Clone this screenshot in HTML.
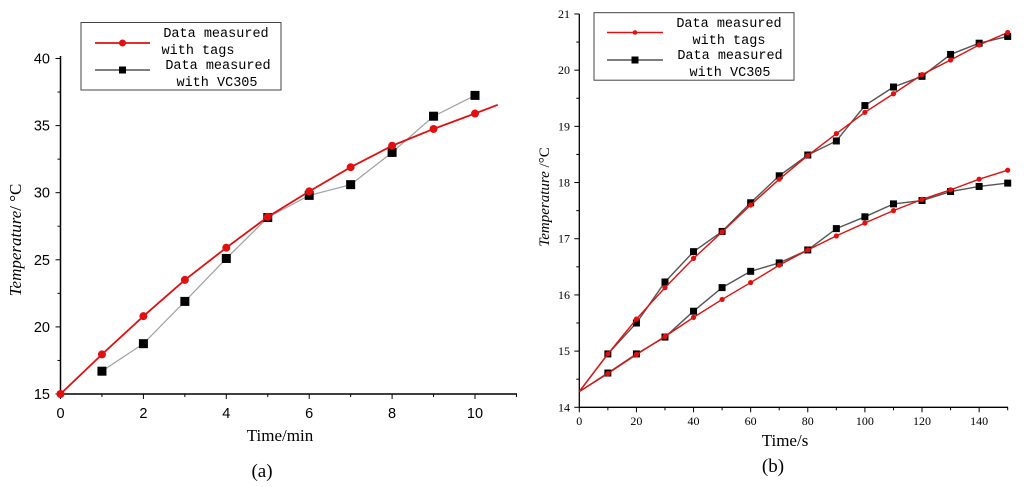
<!DOCTYPE html>
<html><head><meta charset="utf-8"><style>
html,body{margin:0;padding:0;background:#fff;}
svg{display:block;}
.sans{font-family:"Liberation Sans",Arial,sans-serif;}
.serif{font-family:"Liberation Serif","Times New Roman",serif;}
.mono{font-family:"Liberation Mono",monospace;}
</style></head><body>
<svg id="fig" width="1024" height="487" viewBox="0 0 1024 487" xmlns="http://www.w3.org/2000/svg">
<g id="chartA"></g>
<g id="chartB"></g>
</svg>
<script>
// ---- Chart (a) data ----
const aX = [0,1,2,3,4,5,6,7,8,9,10];
const aTags = [15,17.95,20.8,23.5,25.9,28.2,30.1,31.9,33.5,34.75,35.9];
const aTagsExtX = 10.55;
const aTagsExtY = 36.55;
const aVcX = [1,2,3,4,5,6,7,8,9,10];
const aVc = [16.7,18.75,21.9,25.1,28.15,29.8,30.6,33.0,35.7,37.25];
const aXTicks = [0,2,4,6,8,10];
const aYTicks = [15,20,25,30,35,40];
// ---- Chart (b) data ----
const bX = [0,10,20,30,40,50,60,70,80,90,100,110,120,130,140,150];
const bUpTags = [14.28,14.95,15.57,16.13,16.65,17.12,17.6,18.06,18.48,18.87,19.25,19.58,19.92,20.18,20.45,20.67];
const bUpVc = [14.28,14.95,15.5,16.23,16.77,17.13,17.64,18.12,18.49,18.74,19.37,19.7,19.89,20.28,20.48,20.6];
const bLoTags = [14.28,14.6,14.94,15.26,15.6,15.92,16.22,16.53,16.8,17.05,17.28,17.5,17.7,17.87,18.06,18.22];
const bLoVc = [14.28,14.61,14.95,15.25,15.71,16.13,16.42,16.57,16.8,17.18,17.39,17.62,17.68,17.84,17.93,17.99];
const bXTicks = [0,20,40,60,80,100,120,140];
const bYTicks = [14,15,16,17,18,19,20,21];

const NS = "http://www.w3.org/2000/svg";
function mk(parent, tag, attrs, text){
  const e = document.createElementNS(NS, tag);
  for (const k in attrs) e.setAttribute(k, attrs[k]);
  if (text !== undefined) e.textContent = text;
  parent.appendChild(e);
  return e;
}

// ===== Chart A =====
(function(){
  const g = document.getElementById('chartA');
  const x = v => 60.5 + v * 41.45;
  const y = v => 394 - (v - 15) * 13.42;
  let e = mk(g,'line',{x1:60.5,y1:56,x2:60.5,y2:394,stroke:'#000','stroke-width':1.5});
   
  e = mk(g,'line',{x1:60.5,y1:394,x2:517,y2:394,stroke:'#000','stroke-width':1.5});
   
  for (let v = 15; v <= 40; v += 2.5) {
    const major = aYTicks.includes(v);
    mk(g,'line',{x1:60.5-(major?5:3),y1:y(v),x2:60.5,y2:y(v),stroke:'#000','stroke-width':1});
  }
  aYTicks.forEach(v=>{
    const t = mk(g,'text',{x:50,y:y(v)+5,'text-anchor':'end','font-size':14.5,class:'sans'},String(v));
     
  });
  for (let v = 1; v <= 11; v += 1) {
    const major = aXTicks.includes(v);
    mk(g,'line',{x1:x(v),y1:394,x2:x(v),y2:394+(major?5:3),stroke:'#000','stroke-width':1});
  }
  mk(g,'line',{x1:x(0),y1:394,x2:x(0),y2:399,stroke:'#000','stroke-width':1});
  aXTicks.forEach(v=>{
    const t = mk(g,'text',{x:x(v),y:418,'text-anchor':'middle','font-size':14.5,class:'sans'},String(v));
     
  });
  let pts = aVcX.map((v,i)=>x(v)+','+y(aVc[i])).join(' ');
  e = mk(g,'polyline',{points:pts,fill:'none',stroke:'#a0a0a0','stroke-width':1.2});
   
  aVcX.forEach((v,i)=>{
    const r = mk(g,'rect',{x:x(v)-4.5,y:y(aVc[i])-4.5,width:9,height:9,fill:'#000'});
     
  });
  pts = aX.map((v,i)=>x(v)+','+y(aTags[i])).join(' ') + ' ' + x(aTagsExtX)+','+y(aTagsExtY);
  e = mk(g,'polyline',{points:pts,fill:'none',stroke:'#e01010','stroke-width':1.8});
   
  aX.forEach((v,i)=>{
    const c = mk(g,'circle',{cx:x(v),cy:y(aTags[i]),r:4,fill:'#e01010'});
     
  });
  const lg = mk(g,'g',{});
   
  mk(lg,'rect',{x:81,y:22.5,width:200,height:67.5,fill:'#fff',stroke:'#444','stroke-width':1});
  mk(lg,'line',{x1:95,y1:43,x2:150,y2:43,stroke:'#e01010','stroke-width':1.8});
  mk(lg,'circle',{cx:122.5,cy:43,r:3.5,fill:'#e01010'});
  mk(lg,'line',{x1:95,y1:70,x2:150,y2:70,stroke:'#333','stroke-width':1.2});
  mk(lg,'rect',{x:119,y:66.5,width:7,height:7,fill:'#000'});
  mk(lg,'text',{x:216,y:37,'text-anchor':'middle','font-size':13.5,class:'mono'},'Data measured');
  mk(lg,'text',{x:198,y:54,'text-anchor':'middle','font-size':13.5,class:'mono'},'with tags');
  mk(lg,'text',{x:218,y:69,'text-anchor':'middle','font-size':13.5,class:'mono'},'Data measured');
  mk(lg,'text',{x:217,y:86,'text-anchor':'middle','font-size':13.5,class:'mono'},'with VC305');
  e = mk(g,'text',{x:0,y:0,'text-anchor':'middle','font-size':17,class:'serif',transform:'translate(21,240) rotate(-90)'});
  mk(e,'tspan',{'font-style':'italic'},'Temperature');
  mk(e,'tspan',{},'/ °C');
   
  e = mk(g,'text',{x:280,y:441,'text-anchor':'middle','font-size':17,class:'serif'},'Time/min');
   
  e = mk(g,'text',{x:262,y:477,'text-anchor':'middle','font-size':19,class:'serif'},'(a)');
   
})();

// ===== Chart B =====
(function(){
  const g = document.getElementById('chartB');
  const x = v => 579.3 + v * 2.856;
  const y = v => 407.3 - (v - 14) * 56.19;
  let e = mk(g,'line',{x1:579.3,y1:14,x2:579.3,y2:407.3,stroke:'#000','stroke-width':1.3});
   
  e = mk(g,'line',{x1:579.3,y1:407.3,x2:1008,y2:407.3,stroke:'#000','stroke-width':1.3});
   
  for (let v = 14; v <= 21; v += 0.5) {
    const major = Number.isInteger(v);
    mk(g,'line',{x1:579.3-(major?5:3),y1:y(v),x2:579.3,y2:y(v),stroke:'#000','stroke-width':1});
  }
  bYTicks.forEach(v=>{
    const t = mk(g,'text',{x:570,y:y(v)+4,'text-anchor':'end','font-size':12,class:'serif'},String(v));
     
  });
  for (let v = 0; v <= 150; v += 10) {
    const major = v % 20 === 0;
    mk(g,'line',{x1:x(v),y1:407.3,x2:x(v),y2:407.3+(major?5:3),stroke:'#000','stroke-width':1});
  }
  bXTicks.forEach(v=>{
    const t = mk(g,'text',{x:x(v),y:425,'text-anchor':'middle','font-size':12,class:'serif'},String(v));
     
  });
  function series(vals, kind, name){
    const pts = bX.map((v,i)=>x(v)+','+y(vals[i])).join(' ');
    const l = mk(g,'polyline',{points:pts,fill:'none',stroke:kind==='vc'?'#555':'#e01010','stroke-width':1.4});
     
    bX.forEach((v,i)=>{
      if (i===0) return;
      let m;
      if (kind==='vc') m = mk(g,'rect',{x:x(v)-3.5,y:y(vals[i])-3.5,width:7,height:7,fill:'#000'});
      else m = mk(g,'circle',{cx:x(v),cy:y(vals[i]),r:2.6,fill:'#e01010'});
       
    });
  }
  series(bUpVc,'vc','upper-vc305');
  series(bLoVc,'vc','lower-vc305');
  series(bUpTags,'tags','upper-tags');
  series(bLoTags,'tags','lower-tags');
  const lg = mk(g,'g',{});
   
  mk(lg,'rect',{x:594,y:12.7,width:200,height:67.5,fill:'#fff',stroke:'#444','stroke-width':1});
  mk(lg,'line',{x1:607,y1:32.5,x2:663,y2:32.5,stroke:'#e01010','stroke-width':1.6});
  mk(lg,'circle',{cx:635,cy:32.5,r:2.3,fill:'#e01010'});
  mk(lg,'line',{x1:607,y1:60,x2:663,y2:60,stroke:'#555','stroke-width':1.4});
  mk(lg,'rect',{x:631.5,y:56.5,width:7,height:7,fill:'#000'});
  mk(lg,'text',{x:729,y:27,'text-anchor':'middle','font-size':13.5,class:'mono'},'Data measured');
  mk(lg,'text',{x:729,y:44,'text-anchor':'middle','font-size':13.5,class:'mono'},'with tags');
  mk(lg,'text',{x:730,y:59,'text-anchor':'middle','font-size':13.5,class:'mono'},'Data measured');
  mk(lg,'text',{x:730,y:76,'text-anchor':'middle','font-size':13.5,class:'mono'},'with VC305');
  e = mk(g,'text',{x:0,y:0,'text-anchor':'middle','font-size':15,class:'serif',transform:'translate(549,197) rotate(-90)'});
  mk(e,'tspan',{'font-style':'italic'},'Temperature');
  mk(e,'tspan',{},' /°C');
   
  e = mk(g,'text',{x:785,y:446,'text-anchor':'middle','font-size':17,class:'serif'},'Time/s');
   
  e = mk(g,'text',{x:773,y:472,'text-anchor':'middle','font-size':19,class:'serif'},'(b)');
   
})();
</script>
</body></html>
